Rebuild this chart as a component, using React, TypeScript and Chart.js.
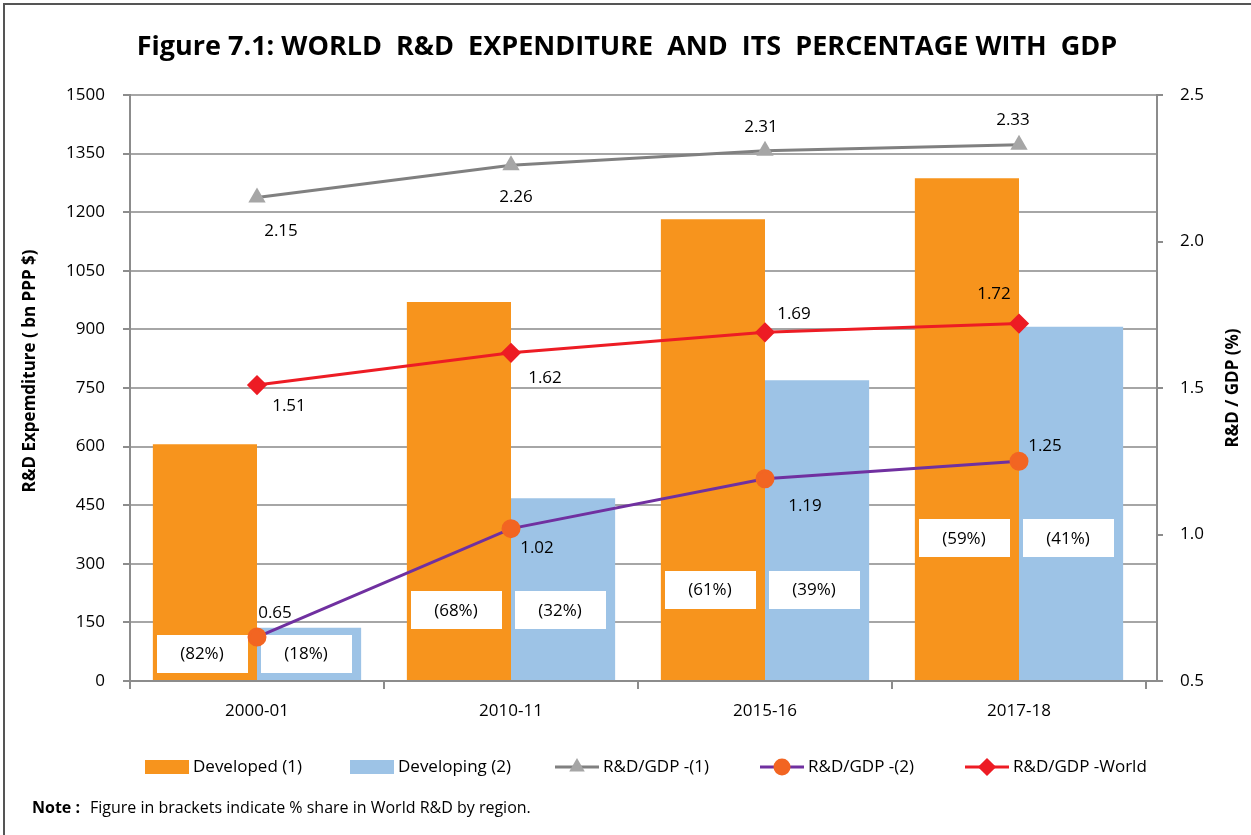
import { useEffect, useRef } from 'react';
import { Chart, registerables } from 'chart.js';
import { drawPoint } from 'chart.js/helpers';

Chart.register(...registerables);

// ---------------- data ----------------
const categories = ['2000-01', '2010-11', '2015-16', '2017-18'];
const developed = [606, 970, 1182, 1287];
const developing = [136, 468, 770, 907];
const gdpDeveloped = [2.15, 2.26, 2.31, 2.33];
const gdpDeveloping = [0.65, 1.02, 1.19, 1.25];
const gdpWorld = [1.51, 1.62, 1.69, 1.72];
const shareDeveloped = ['(82%)', '(68%)', '(61%)', '(59%)'];
const shareDeveloping = ['(18%)', '(32%)', '(39%)', '(41%)'];
// level (in bn PPP $) at which the share boxes sit
const shareLevel = [70, 182, 234, 366];
const leftMin = 0, leftMax = 1500, leftStep = 150;
const rightMin = 0.5, rightMax = 2.5, rightStep = 0.5;

const titleText = 'Figure 7.1: WORLD  R&D  EXPENDITURE  AND  ITS  PERCENTAGE WITH  GDP';
const leftAxisTitle = 'R&D Expemditure ( bn PPP $)';
const rightAxisTitle = 'R&D / GDP (%)';
const noteLabel = 'Note :';
const noteText = 'Figure in brackets indicate % share in World R&D by region.';

// ---------------- styles ----------------
const FONT = '"Open Sans", "Noto Sans", sans-serif';
const ORANGE = '#F7941D';
const BLUE = '#9DC3E6';
const GRAY_LINE = '#808080';
const GRAY_MARK = '#A6A6A6';
const PURPLE = '#7030A0';
const DOT = '#F26522';
const RED = '#ED1C24';
const AXIS = '#8C8C8C';
const GRID = '#A6A6A6';
const TEXT_SIZE = 17;

// label offsets (dx, dy) from each point
const offsetsDeveloped = [[24, 34], [5, 32], [-4, -24], [-6, -25]];
const offsetsDeveloping = [[18, -24], [26, 20], [40, 27], [26, -15]];
const offsetsWorld = [[32, 21], [34, 25], [29, -18], [-25, -29]];

const W = 1251;
const H = 835;

const decorPlugin = {
  id: 'decor',
  afterLayout(chart: any) {
    // the plot's categories end slightly before the right axis in the original
    const x = chart.scales.x;
    const inset = 11;
    x._endPixel -= inset;
    x._length -= inset;
  },
  beforeDatasetsDraw(chart: any) {
    chart.$barsDrawn = 0;
  },
  afterDatasetDraw(chart: any, args: any) {
    if (args.meta.type !== 'bar') return;
    chart.$barsDrawn = (chart.$barsDrawn || 0) + 1;
    if (chart.$barsDrawn !== 2) return;
    const ctx = chart.ctx;
    const y = chart.scales.y;
    const m0 = chart.getDatasetMeta(0);
    const m1 = chart.getDatasetMeta(1);
    ctx.save();
    ctx.font = `${TEXT_SIZE}px ${FONT}`;
    ctx.textAlign = 'center';
    ctx.textBaseline = 'middle';
    categories.forEach((_, i) => {
      const cy = y.getPixelForValue(shareLevel[i]);
      [[m0, shareDeveloped], [m1, shareDeveloping]].forEach(([m, labels]: any) => {
        const cx = m.data[i].x - 3;
        ctx.fillStyle = '#FFFFFF';
        ctx.fillRect(Math.round(cx - 45), Math.round(cy - 19), 91, 38);
        ctx.fillStyle = '#000000';
        ctx.fillText(labels[i], cx, cy + 1);
      });
    });
    ctx.restore();
  },
  afterDatasetsDraw(chart: any) {
    const ctx = chart.ctx;
    ctx.save();
    ctx.font = `${TEXT_SIZE}px ${FONT}`;
    ctx.fillStyle = '#000000';
    ctx.textAlign = 'center';
    ctx.textBaseline = 'middle';
    const sets: [number, number[], number[][]][] = [
      [2, gdpDeveloped, offsetsDeveloped],
      [3, gdpDeveloping, offsetsDeveloping],
      [4, gdpWorld, offsetsWorld],
    ];
    sets.forEach(([idx, values, offs]) => {
      const meta = chart.getDatasetMeta(idx);
      meta.data.forEach((pt: any, i: number) => {
        ctx.fillText(values[i].toFixed(2), pt.x + offs[i][0], pt.y + offs[i][1]);
      });
    });
    ctx.restore();
  },
  afterDraw(chart: any) {
    const ctx = chart.ctx;
    ctx.save();
    // frame
    ctx.strokeStyle = '#555555';
    ctx.lineWidth = 2;
    ctx.beginPath();
    ctx.moveTo(4, H + 5);
    ctx.lineTo(4, 4);
    ctx.lineTo(W + 5, 4);
    ctx.stroke();

    // title
    ctx.fillStyle = '#000000';
    ctx.font = `bold 27px ${FONT}`;
    ctx.textAlign = 'center';
    ctx.textBaseline = 'middle';
    ctx.fillText(titleText, 627, 47);

    // axis titles
    ctx.font = `bold 17px ${FONT}`;
    ctx.save();
    ctx.translate(30, 371);
    ctx.rotate(-Math.PI / 2);
    ctx.fillText(leftAxisTitle, 0, 0);
    ctx.restore();
    ctx.save();
    ctx.translate(1233, 388);
    ctx.rotate(-Math.PI / 2);
    ctx.fillText(rightAxisTitle, 0, 0);
    ctx.restore();

    // legend
    const ly = 767;
    const startX = 145;
    const step = 205;
    ctx.font = `${TEXT_SIZE}px ${FONT}`;
    ctx.textAlign = 'left';
    chart.data.datasets.forEach((ds: any, i: number) => {
      const x = startX + i * step;
      if (ds.type === 'bar') {
        ctx.fillStyle = ds.backgroundColor;
        ctx.fillRect(x, ly - 7, 44, 14);
      } else {
        ctx.strokeStyle = ds.borderColor;
        ctx.lineWidth = 3;
        ctx.beginPath();
        ctx.moveTo(x, ly);
        ctx.lineTo(x + 44, ly);
        ctx.stroke();
        ctx.fillStyle = ds.pointBackgroundColor;
        ctx.strokeStyle = ds.pointBorderColor;
        drawPoint(ctx, { pointStyle: ds.pointStyle, radius: ds.pointRadius - 1, rotation: 0, borderWidth: 1 }, x + 22, ly);
      }
      ctx.fillStyle = '#000000';
      ctx.fillText(ds.label, x + 48, ly);
    });

    // note
    ctx.font = `bold 16px ${FONT}`;
    ctx.fillText(noteLabel, 32, 808);
    ctx.font = `16px ${FONT}`;
    ctx.fillText(noteText, 90, 808);
    ctx.restore();
  },
};

export default function App() {
  const ref = useRef<HTMLCanvasElement | null>(null);

  useEffect(() => {
    if (!ref.current) return;
    Chart.defaults.font.family = FONT;
    Chart.defaults.color = '#000000';
    const chart = new Chart(ref.current, {
      type: 'bar',
      data: {
        labels: categories,
        datasets: [
          {
            type: 'bar', label: 'Developed (1)', data: developed, backgroundColor: ORANGE,
            yAxisID: 'y', order: 2, categoryPercentage: 0.82, barPercentage: 1,
          },
          {
            type: 'bar', label: 'Developing (2)', data: developing, backgroundColor: BLUE,
            yAxisID: 'y', order: 2, categoryPercentage: 0.82, barPercentage: 1,
          },
          {
            type: 'line', label: 'R&D/GDP -(1)', data: gdpDeveloped, yAxisID: 'y2', order: 1,
            borderColor: GRAY_LINE, borderWidth: 3, pointStyle: 'triangle', pointRadius: 7,
            pointBackgroundColor: GRAY_MARK, pointBorderColor: GRAY_MARK, tension: 0,
          },
          {
            type: 'line', label: 'R&D/GDP -(2)', data: gdpDeveloping, yAxisID: 'y2', order: 1,
            borderColor: PURPLE, borderWidth: 3, pointStyle: 'circle', pointRadius: 8,
            pointBackgroundColor: DOT, pointBorderColor: DOT, tension: 0,
          },
          {
            type: 'line', label: 'R&D/GDP -World', data: gdpWorld, yAxisID: 'y2', order: 1,
            borderColor: RED, borderWidth: 3, pointStyle: 'rectRot', pointRadius: 8,
            pointBackgroundColor: RED, pointBorderColor: RED, tension: 0,
          },
        ] as any,
      },
      options: {
        responsive: false,
        animation: false,
        devicePixelRatio: 1,
        layout: { padding: { top: 95, left: 0, right: 0, bottom: 104 } },
        plugins: {
          legend: { display: false },
          title: { display: false },
          tooltip: { enabled: false },
        },
        scales: {
          x: {
            offset: true,
            grid: {
              offset: true,
              drawOnChartArea: false,
              tickLength: 8,
              lineWidth: 2,
              tickColor: (c: any) => (c.index >= categories.length ? 'rgba(0,0,0,0)' : AXIS),
            },
            border: { color: AXIS, width: 2 },
            ticks: { font: { size: TEXT_SIZE, family: FONT }, color: '#000', padding: 12 },
            afterFit: (s: any) => { s.height = 50; },
          },
          y: {
            position: 'left',
            min: leftMin, max: leftMax,
            ticks: {
              stepSize: leftStep, font: { size: TEXT_SIZE, family: FONT }, color: '#000', padding: 18,
              callback: (v: any) => String(v),
            },
            grid: { color: GRID, lineWidth: 2, tickLength: 7, tickColor: AXIS },
            border: { color: AXIS, width: 2 },
            afterFit: (s: any) => { s.width = 130; },
          },
          y2: {
            position: 'right',
            min: rightMin, max: rightMax,
            ticks: {
              stepSize: rightStep, font: { size: TEXT_SIZE, family: FONT }, color: '#000', padding: 17,
              callback: (v: any) => Number(v).toFixed(1),
            },
            grid: { drawOnChartArea: false, tickLength: 6, lineWidth: 2, color: AXIS },
            border: { color: AXIS, width: 2 },
            afterFit: (s: any) => { s.width = 94; },
          },
        },
      } as any,
      plugins: [decorPlugin],
    });
    return () => chart.destroy();
  }, []);

  return (
    <div style={{ position: 'absolute', left: 0, top: 0, width: W, height: H, background: '#fff' }}>
      <canvas ref={ref} width={W} height={H} style={{ display: 'block', width: W, height: H }} />
    </div>
  );
}
